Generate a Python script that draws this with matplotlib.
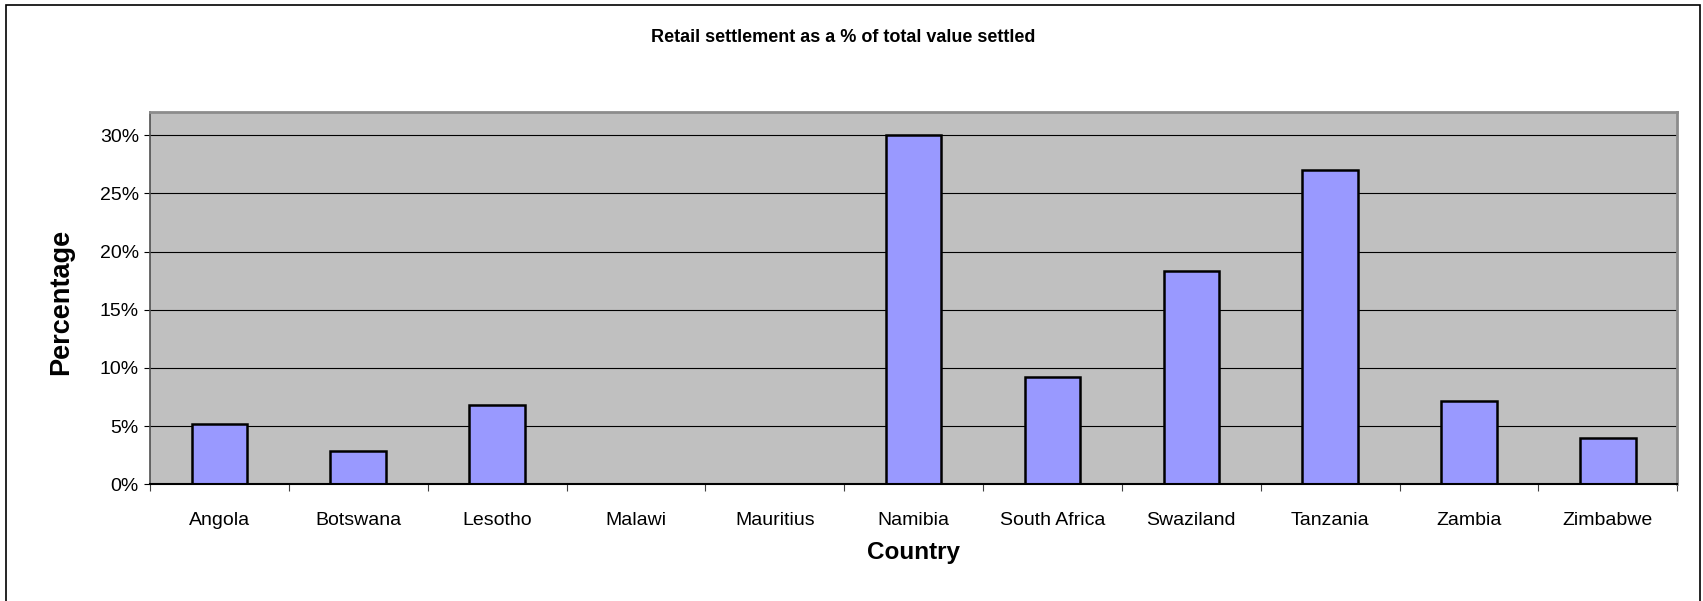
import numpy as np
import matplotlib.pyplot as plt
from matplotlib.patches import Rectangle
from matplotlib.ticker import FuncFormatter, FixedLocator

# ============================================================
# DATOS
# ============================================================

paises = [
    "Angola", "Botswana", "Lesotho", "Malawi", "Mauritius", "Namibia",
    "South Africa", "Swaziland", "Tanzania", "Zambia", "Zimbabwe"
]

# Liquidacion minorista como fraccion del valor total liquidado
retail_pct = [0.052, 0.029, 0.068, 0.0, 0.0, 0.300, 0.092, 0.183, 0.270, 0.072, 0.040]

y_ticks = [0.0, 0.05, 0.10, 0.15, 0.20, 0.25, 0.30]

titulo = "Retail settlement as a % of total value settled"

# ============================================================
# FIGURA
# ============================================================

plt.rcParams["font.family"] = ["Liberation Sans", "DejaVu Sans"]

fig = plt.figure(figsize=(17.03, 6.01), dpi=100)
fig.patch.set_facecolor("white")

# marco exterior del grafico
fig.patches.append(Rectangle(
    (6 / 1703, -0.05), 1694 / 1703, 1.05 - 5 / 601,
    transform=fig.transFigure, facecolor="none",
    edgecolor="black", linewidth=1.2, zorder=0
))

ax = fig.add_axes([150 / 1703, 1 - 484.3 / 601, 1527.3 / 1703, 372.3 / 601])
ax.set_facecolor("#C0C0C0")

x = np.arange(len(paises))
ax.bar(x, retail_pct, width=0.40, color="#9999FF",
       edgecolor="black", linewidth=1.8, zorder=3)

ax.set_xlim(-0.5, len(paises) - 0.5)
ax.set_ylim(0, 0.32)

# eje Y
ax.set_yticks(y_ticks)
ax.yaxis.set_major_formatter(FuncFormatter(lambda v, _: f"{v * 100:.0f}%"))
ax.tick_params(axis="y", direction="out", length=4, width=0.8,
               pad=4, labelsize=14, colors="black")
ax.grid(True, axis="y", color="black", linewidth=0.8, zorder=1)

# eje X: etiquetas al centro, marcas entre categorias
ax.set_xticks(x)
ax.set_xticklabels(paises)
ax.tick_params(axis="x", which="major", length=0, pad=20, labelsize=14)
ax.xaxis.set_minor_locator(FixedLocator(np.arange(-0.5, len(paises), 1.0)))
ax.tick_params(axis="x", which="minor", direction="out", length=5,
               width=0.8, color="#404040")

for lado in ["top", "right"]:
    ax.spines[lado].set_color("#8C8C8C")
    ax.spines[lado].set_linewidth(2.0)
ax.spines["left"].set_color("#505050")
ax.spines["left"].set_linewidth(1.2)
ax.spines["bottom"].set_color("black")
ax.spines["bottom"].set_linewidth(1.5)
ax.spines["bottom"].set_zorder(4)

# textos
fig.text(843.5 / 1703, 1 - 38 / 601, titulo, ha="center", va="center",
         fontsize=13, fontweight="bold")
fig.text(913 / 1703, 1 - 553 / 601, "Country", ha="center", va="center",
         fontsize=17.5, fontweight="bold")
fig.text(61 / 1703, 1 - 302 / 601, "Percentage", ha="center", va="center",
         rotation=90, fontsize=19.5, fontweight="bold")

plt.savefig("out.png", dpi=100)
plt.close()
